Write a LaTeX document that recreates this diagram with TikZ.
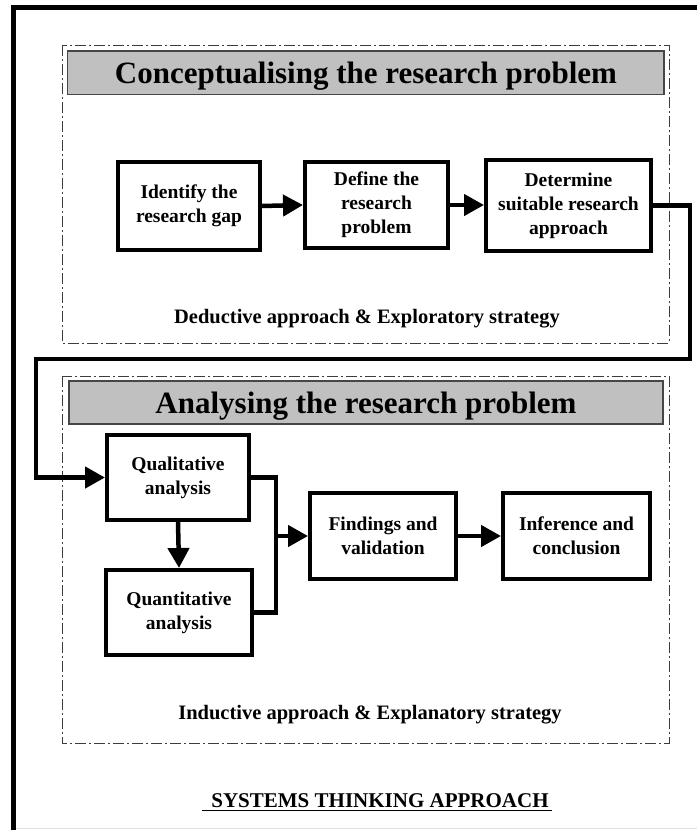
\documentclass[tikz,border=0pt]{standalone}
\usepackage{fontspec}
\setmainfont{Liberation Serif}
\usetikzlibrary{arrows.meta}
\definecolor{hdrgray}{RGB}{192,192,192}
\definecolor{hdrline}{RGB}{70,70,70}
\definecolor{dashcol}{RGB}{60,60,60}
\begin{document}
\begin{tikzpicture}[x=1pt,y=-1pt,
  stepbox/.style={draw,line width=4pt,align=center,inner sep=0pt,
    font=\bfseries\fontsize{19.5}{24}\selectfont},
  hdr/.style={draw=hdrline,fill=hdrgray,line width=1.5pt},
  hdrtext/.style={font=\bfseries\fontsize{31}{32}\selectfont,anchor=base},
  groupbox/.style={draw=dashcol,line width=1pt,dash pattern=on 11pt off 3pt on 2pt off 3pt},
  caption/.style={font=\bfseries\fontsize{20.5}{24}\selectfont,anchor=base},
  conn/.style={line width=4.5pt,line join=miter},
  arr/.style={conn,-{Triangle[length=20pt 0,width=21pt 0]}}
]
\useasboundingbox (0,0) rectangle (697,830);
% outer frame
\draw[line width=5pt,line join=miter] (13.5,830) -- (13.5,7.5) -- (697,7.5);
\draw[black!12,line width=1pt] (16,828.5) -- (697,828.5);

% group 1
\draw[groupbox] (62,45) rectangle (669,343);
\draw[hdr] (67.5,51) rectangle (664,94.5);
\node[hdrtext] (h1) at (366,83) {Conceptualising the research problem};
\node[stepbox,minimum width=142pt,minimum height=88pt] (gap) at (189,206) {Identify the\\research gap};
\node[stepbox,minimum width=143pt,minimum height=86pt] (def) at (376.5,205) {Define the\\research\\problem};
\node[stepbox,minimum width=165pt,minimum height=91pt] (appr) at (568.5,205.5) {Determine\\suitable research\\approach};
\node[caption] (ded) at (367,323) {Deductive approach \& Exploratory strategy};

% group 2
\draw[groupbox] (62,376) rectangle (669,743);
\draw[hdr] (69,381) rectangle (663,424);
\node[hdrtext] (h2) at (366,413) {Analysing the research problem};
\node[stepbox,minimum width=142pt,minimum height=85pt] (qual) at (178,477.5) {Qualitative\\analysis};
\node[stepbox,minimum width=146pt,minimum height=85pt] (quant) at (179,612.5) {Quantitative\\analysis};
\node[stepbox,minimum width=146pt,minimum height=86pt] (find) at (383,536) {Findings and\\validation};
\node[stepbox,minimum width=147pt,minimum height=86pt] (inf) at (576.5,536) {Inference and\\conclusion};
\node[caption] (ind) at (370,719) {Inductive approach \& Explanatory strategy};

% title
\node[caption,font=\bfseries\fontsize{21}{24}\selectfont] (title) at (380,807) {SYSTEMS THINKING APPROACH};
\draw[line width=1.2pt] ([xshift=-6pt,yshift=-3.5pt]title.base west) -- ([yshift=-3.5pt]title.base east);

% connectors
\draw[arr] (gap.east) -- (def.west);
\draw[arr] (def.east) -- (def.east -| appr.west);
\coordinate (c1) at (690,359);
\coordinate (c2) at (36,359);
\draw[arr] (appr.east) -| (c1) -- (c2) |- (qual.west);
\draw[arr] (qual.south) -- (quant.north);
\coordinate (m) at (276,536);
\draw[conn] (qual.east) -| (m) |- (quant.east);
\draw[arr] (m) -- (find.west);
\draw[arr] (find.east) -- (inf.west);
\end{tikzpicture}
\end{document}
